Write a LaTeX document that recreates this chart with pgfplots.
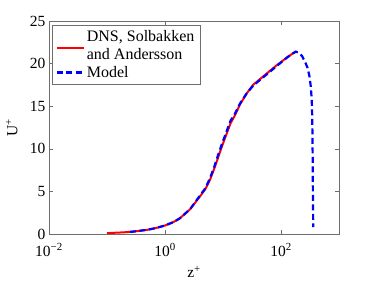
\documentclass[border=0pt]{standalone}
\usepackage{pgfplots}
\pgfplotsset{compat=1.18}
\usepackage{fontspec}
\setmainfont{Liberation Serif}
\definecolor{axgray}{RGB}{110,110,110}
\begin{document}
\begin{tikzpicture}
\useasboundingbox (-49pt,-47pt) rectangle (325pt,234pt);
\begin{axis}[
  at={(0pt,0pt)}, anchor=south west,
  scale only axis, width=290pt, height=213pt,
  xmode=log, xmin=0.01, xmax=1000, ymin=0, ymax=25,
  xtick={0.01,1,100},
  xticklabels={10\textsuperscript{\char"2212 2},10\textsuperscript{0},10\textsuperscript{2}},
  xminorticks=false,
  ytick={0,5,10,15,20,25},
  /pgf/number format/assume math mode=true,
  tick align=inside,
  axis line style={draw=axgray},
  every tick/.style={axgray},
  tick label style={font=\fontsize{15.5}{17.6}\selectfont, text=black},
  xticklabel style={anchor=base, yshift=-22pt},
  label style={font=\fontsize{15.5}{17.6}\selectfont},
  xlabel={z\textsuperscript{+}},
  ylabel={U\textsuperscript{+}},
  xlabel style={at={(axis description cs:0.5,-0.136)}, anchor=north},
  ylabel style={at={(axis description cs:-0.096,0.5)}, anchor=south},
  legend style={at={(axis description cs:0.0103,0.981)}, anchor=north west,
    draw=axgray, font=\fontsize{16}{17.8}\selectfont, inner sep=3.5pt,
    cells={align=left}, row sep=1pt},
  legend cell align=left,
  legend image code/.code={\draw[#1] (0pt,0pt) -- (27pt,0pt);},
]
\addplot[red, line width=2pt, legend image post style={yshift=-2pt}] table {
x y
0.1 0.1
0.2 0.2
0.3 0.3
0.5 0.5
0.7 0.7
1.0 1.0
1.4 1.4
1.8 1.84
2.7 2.9
4.0 4.4
5.0 5.3
6.0 6.4
7.0 7.6
7.8 8.5
9.5 10.2
11.6 11.8
13.5 13.0
16 13.9
19.6 15.2
25.6 16.5
33 17.5
49.5 18.5
84 19.8
126 20.7
160 21.2
180 21.4
};
\addlegendentry{DNS, Solbakken\\and Andersson}
\addplot[blue, line width=2.2pt, dash pattern=on 6pt off 3.5pt] table {
x y
0.25 0.25
0.3 0.3
0.5 0.5
0.7 0.7
1.0 1.0
1.4 1.4
1.8 1.84
2.7 2.9
4.0 4.5
5.0 5.4
6.0 6.6
7.0 7.8
7.8 8.8
9.5 10.5
11.6 12.1
13.5 13.3
16 14.1
19.6 15.3
25.6 16.5
33 17.4
49.5 18.4
84 19.7
126 20.7
160 21.2
180 21.4
200 21.3
230 20.9
260 20.2
287 19.5
310 18.5
325 17.4
333 16.5
340 15.4
345 13.9
348.5 11.8
351.5 9.0
354 5.7
356 4.0
358 2.1
359.2 0.8
};
\addlegendentry{Model}
\end{axis}
\end{tikzpicture}
\end{document}
